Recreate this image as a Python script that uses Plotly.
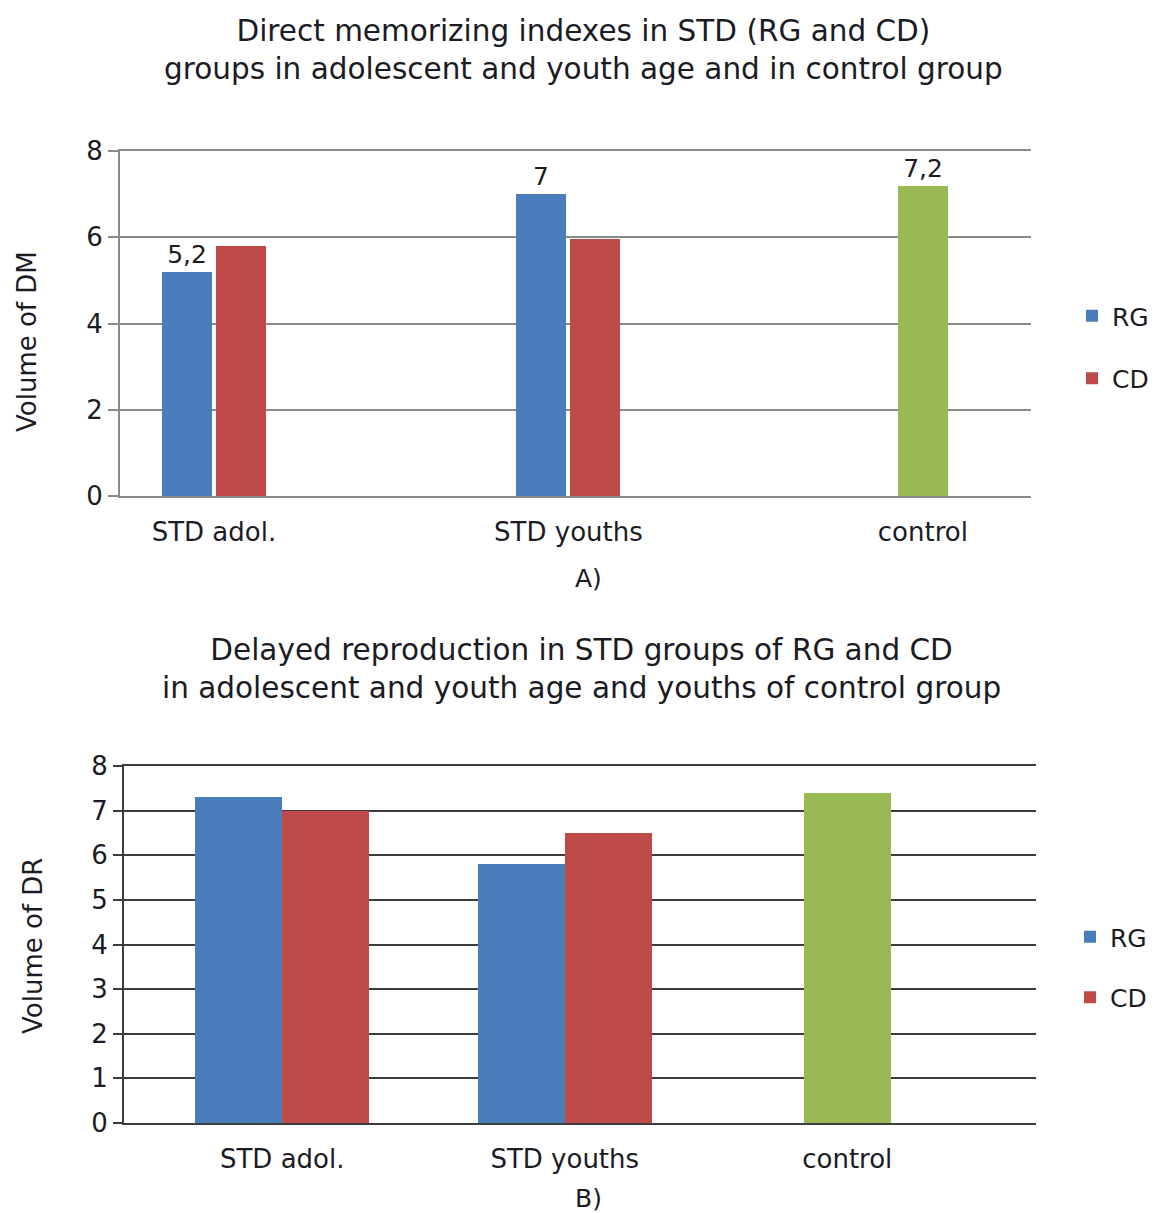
import plotly.graph_objects as go

# Category labels and series values
categories = ["STD adol.", "STD youths", "control"]
groups = ["STD adol.", "STD youths"]

dm_rg = [5.2, 7.0]
dm_cd = [5.8, 5.95]
dm_control = [7.2]

dr_rg = [7.3, 5.8]
dr_cd = [7.0, 6.5]
dr_control = [7.4]

# which bars in the first chart carry a value label
dm_rg_labelled = [True, True]
dm_control_labelled = [True]

title_a = "Direct memorizing indexes in STD (RG and CD)<br>groups in adolescent and youth age and in control group"
title_b = "Delayed reproduction in STD groups of RG and CD<br>in adolescent and youth age and youths of control group"
ytitle_a = "Volume of DM"
ytitle_b = "Volume of DR"

BLUE = "#4a7ebb"
RED = "#be4b48"
GREEN = "#98b954"
TEXT = "#1b1b24"
FONT = "DejaVu Sans"


def fmt(v):
    s = f"{v:.1f}".rstrip("0").rstrip(".")
    return s.replace(".", ",")


def labels(vals, flags):
    return [fmt(v) if f else "" for v, f in zip(vals, flags)]


W = 1157
H = 1213

fig = go.Figure()

# ---- chart A: direct memorizing ----
wa = 0.141
ga = 0.0056
label_font = dict(size=25, color=TEXT, family=FONT)
fig.add_trace(go.Bar(
    x=groups, y=dm_rg, name="RG", marker_color=BLUE, marker_line_width=0,
    width=wa, offset=-wa - ga, xaxis="x", yaxis="y",
    text=labels(dm_rg, dm_rg_labelled), textposition="outside",
    textfont=label_font, cliponaxis=False,
    legend="legend", legendgroup="a_rg",
))
fig.add_trace(go.Bar(
    x=groups, y=dm_cd, name="CD", marker_color=RED, marker_line_width=0,
    width=wa, offset=ga, xaxis="x", yaxis="y",
    legend="legend", legendgroup="a_cd",
))
fig.add_trace(go.Bar(
    x=["control"], y=dm_control, name="control", marker_color=GREEN,
    marker_line_width=0, width=wa, offset=-wa / 2, xaxis="x", yaxis="y",
    text=labels(dm_control, dm_control_labelled), textposition="outside",
    textfont=label_font, cliponaxis=False,
    showlegend=False,
))

# ---- chart B: delayed reproduction ----
wb = 0.308
fig.add_trace(go.Bar(
    x=groups, y=dr_rg, name="RG", marker_color=BLUE, marker_line_width=0,
    width=wb, offset=-wb, xaxis="x2", yaxis="y2",
    legend="legend2", legendgroup="b_rg",
))
fig.add_trace(go.Bar(
    x=groups, y=dr_cd, name="CD", marker_color=RED, marker_line_width=0,
    width=wb, offset=0, xaxis="x2", yaxis="y2",
    legend="legend2", legendgroup="b_cd",
))
fig.add_trace(go.Bar(
    x=["control"], y=dr_control, name="control", marker_color=GREEN,
    marker_line_width=0, width=wb, offset=-wb / 2, xaxis="x2", yaxis="y2",
    showlegend=False,
))


def px_x(p):
    return p / W


def px_y(p):
    return 1 - p / H


tick_font = dict(family=FONT, size=26, color=TEXT)
cat_font = dict(family=FONT, size=26, color=TEXT)
GRID_A = "#8a8a8a"
GRID_B = "#3c3c3c"

fig.update_layout(
    width=W, height=H,
    margin=dict(l=0, r=0, t=0, b=0, autoexpand=False),
    paper_bgcolor="white", plot_bgcolor="white",
    font=dict(family=FONT, color=TEXT),
    bargap=0,
    xaxis=dict(
        domain=[px_x(120), px_x(1031)], anchor="y",
        type="category", categoryorder="array", categoryarray=categories,
        range=[-0.265, 2.305], showgrid=False,
        showline=True, mirror=True, linecolor=GRID_A, linewidth=2,
        ticks="", ticklabelstandoff=12, tickfont=cat_font,
    ),
    yaxis=dict(
        domain=[px_y(496), px_y(151)], anchor="x",
        range=[0, 8], dtick=2, tick0=0,
        showgrid=True, gridcolor=GRID_A, gridwidth=2,
        showline=True, linecolor=GRID_A, linewidth=2,
        ticks="outside", ticklen=10, tickwidth=2, tickcolor=GRID_A,
        tickfont=tick_font, zeroline=False,
    ),
    xaxis2=dict(
        domain=[px_x(124), px_x(1036)], anchor="y2",
        type="category", categoryorder="array", categoryarray=categories,
        range=[-0.56, 2.668], showgrid=False,
        showline=True, mirror=True, linecolor=GRID_B, linewidth=2,
        ticks="", ticklabelstandoff=12, tickfont=cat_font,
    ),
    yaxis2=dict(
        domain=[px_y(1123), px_y(766)], anchor="x2",
        range=[0, 8], dtick=1, tick0=0,
        showgrid=True, gridcolor=GRID_B, gridwidth=2,
        showline=True, linecolor=GRID_B, linewidth=2,
        ticks="outside", ticklen=9, tickwidth=2, tickcolor=GRID_B,
        tickfont=tick_font, zeroline=False,
    ),
    legend=dict(
        x=px_x(1072), y=px_y(347), xanchor="left", yanchor="middle",
        font=dict(family=FONT, size=25, color=TEXT),
        tracegroupgap=27, bgcolor="rgba(0,0,0,0)",
    ),
    legend2=dict(
        x=px_x(1070), y=px_y(967), xanchor="left", yanchor="middle",
        font=dict(family=FONT, size=25, color=TEXT),
        tracegroupgap=25, bgcolor="rgba(0,0,0,0)",
    ),
    annotations=[
        dict(text=title_a, x=px_x(583), y=px_y(50), xref="paper", yref="paper",
             showarrow=False, font=dict(family=FONT, size=29.5, color=TEXT),
             xanchor="center", yanchor="middle"),
        dict(text="A)", x=px_x(588), y=px_y(578), xref="paper", yref="paper",
             showarrow=False, font=dict(family=FONT, size=25, color=TEXT),
             xanchor="center", yanchor="middle"),
        dict(text=title_b, x=px_x(581), y=px_y(669), xref="paper", yref="paper",
             showarrow=False, font=dict(family=FONT, size=29.5, color=TEXT),
             xanchor="center", yanchor="middle"),
        dict(text="B)", x=px_x(588), y=px_y(1198), xref="paper", yref="paper",
             showarrow=False, font=dict(family=FONT, size=25, color=TEXT),
             xanchor="center", yanchor="middle"),
        dict(text=ytitle_a, x=px_x(27), y=px_y(342), xref="paper", yref="paper",
             showarrow=False, textangle=-90, font=dict(family=FONT, size=26, color=TEXT),
             xanchor="center", yanchor="middle"),
        dict(text=ytitle_b, x=px_x(33), y=px_y(946), xref="paper", yref="paper",
             showarrow=False, textangle=-90, font=dict(family=FONT, size=26, color=TEXT),
             xanchor="center", yanchor="middle"),
    ],
)

fig.write_html("out.html")
